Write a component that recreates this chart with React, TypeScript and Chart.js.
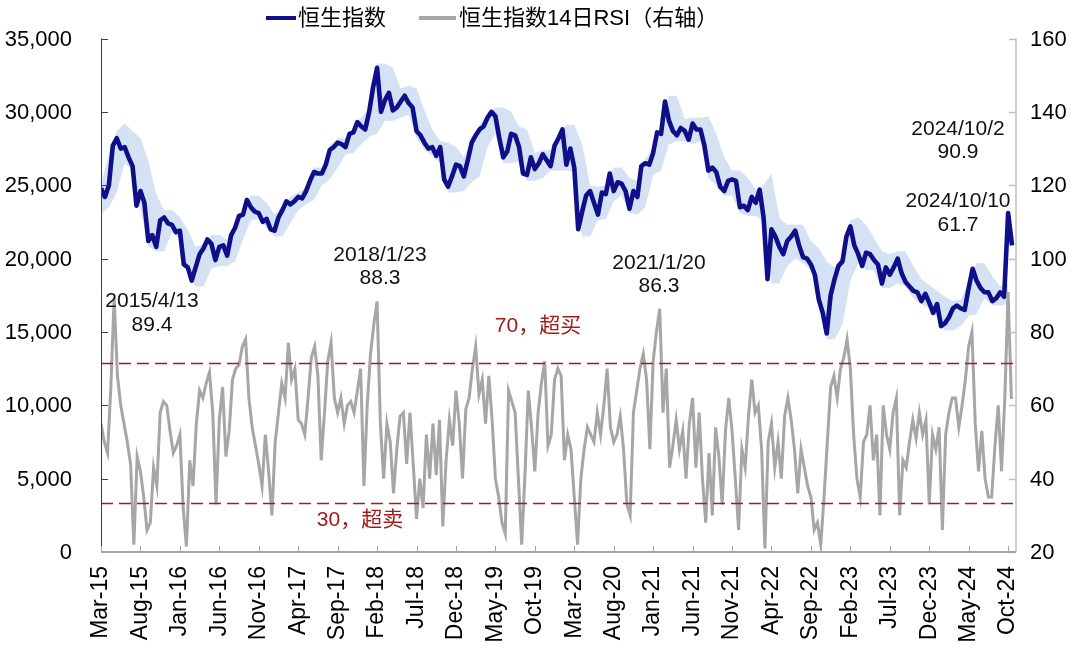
import React, { useEffect, useRef } from "react";
import { Chart, registerables } from "chart.js";

Chart.register(...registerables);

// ---- time grid: months since 1 Mar 2015 ----
const HSI_STEP_MONTHS = 0.5; // semi-monthly readings
const RSI_STEP_MONTHS = 1 / 2.4; // ~every 9 trading days
const BAND_STEP_MONTHS = 1; // monthly readings

const xTickMonths = [0, 5, 10, 15, 20, 25, 30, 35, 40, 45, 50, 55, 60, 65, 70, 75, 80, 85, 90, 95, 100, 105, 110, 115];
const xTickLabels = [
  "Mar-15", "Aug-15", "Jan-16", "Jun-16", "Nov-16", "Apr-17", "Sep-17", "Feb-18",
  "Jul-18", "Dec-18", "May-19", "Oct-19", "Mar-20", "Aug-20", "Jan-21", "Jun-21",
  "Nov-21", "Apr-22", "Sep-22", "Feb-23", "Jul-23", "Dec-23", "May-24", "Oct-24",
];

// Hang Seng Index (left axis)
const hsiValues = [
  24800, 24200, 25000, 27700, 28200, 27500, 27600, 26900, 26300, 23600,
  24600, 23800, 21200, 21600, 20800, 22600, 22800, 22400, 22300, 21800,
  21900, 19600, 19400, 18500, 19400, 20300, 20700, 21300, 21000, 19900,
  20800, 20900, 20200, 21600, 22100, 22900, 23000, 24000, 23500, 23200,
  23100, 22500, 22700, 22000, 21900, 22800, 23300, 23900, 23700, 23900,
  24200, 24100, 24600, 25300, 25900, 25800, 25800, 26400, 27400, 27600,
  27900, 27800, 27600, 28500, 28600, 29300, 29000, 28800, 30000, 31700,
  33000, 30000, 30800, 31300, 30100, 30300, 30700, 31100, 30600, 30300,
  28700, 28400, 27900, 27500, 27600, 27000, 27600, 25400, 24900, 25600,
  26400, 26300, 25600, 26700, 27900, 28400, 28800, 29000, 29600, 30000,
  29700, 28200, 26900, 27300, 28500, 28400, 27600, 25800, 25700, 26900,
  26100, 26500, 27100, 26700, 26300, 27700, 28200, 28800, 26400, 27500,
  26200, 22000, 23200, 24300, 24600, 23800, 23000, 24500, 24400, 25800,
  24600, 25200, 25100, 24600, 23400, 24600, 24200, 26300, 26500, 26400,
  27200, 28600, 28500, 30700, 29400, 28700, 28400, 28900, 28700, 28100,
  29200, 28800, 28800, 27700, 26000, 26200, 25900, 24900, 24600, 25300,
  25400, 25300, 23500, 23600, 23300, 24200, 23800, 24700, 22800, 18600,
  22000, 21500, 20800, 20300, 21200, 21500, 21900, 20900, 20100, 20000,
  19600, 18900, 17200, 16300, 14900, 17500, 18600, 19500, 19800, 21500,
  22200, 20900, 20300, 19500, 20400, 20300, 19900, 19600, 18300, 19400,
  18900, 19400, 20000, 19000, 18400, 18100, 17800, 17700, 17100, 17600,
  17000, 16300, 16900, 15400, 15600, 16000, 16600, 16800, 16600, 16500,
  18000, 19300, 18500, 18000, 17700, 17700, 17100, 17300, 17700, 17400,
  23100, 20900,
];

// shaded range around the index (left axis)
const bandHigh = [
  25100, 27100, 28700, 29200, 28700, 28200, 26700, 24400, 23300, 23300,
  22800, 22000, 20800, 21000, 21600, 21600, 21300, 22400, 23300, 24300,
  24300, 23800, 23000, 23600, 24200, 24500, 24900, 26200, 26200, 27700,
  28200, 28200, 28900, 29600, 30300, 33300, 33300, 33000, 31600, 31800,
  31600, 30100, 28800, 28000, 27900, 27600, 26900, 28200, 29100, 29900,
  30300, 30300, 30000, 29000, 28800, 27200, 27400, 27400, 28500, 29100,
  29100, 27800, 25000, 24900, 25000, 26200, 26200, 25500, 25300, 26800,
  27500, 28900, 31100, 31100, 29500, 29600, 29600, 29700, 28500, 26900,
  26000, 26000, 25500, 24700, 25000, 25800, 22800, 22300, 22300, 22300,
  21200, 20700, 19800, 19400, 20200, 22600, 22800, 22300, 21400, 20500,
  20300, 20500, 20500, 19500, 18600, 18200, 17800, 17400, 17100, 17200,
  18400, 19700, 19700, 18800, 18100, 18300,
];
const bandLow = [
  23000, 23500, 24500, 26500, 26000, 23300, 20800, 20500, 20500, 21800,
  21300, 19000, 18100, 18100, 19300, 19500, 19500, 19800, 21300, 22600,
  22700, 22100, 21500, 21500, 22400, 23300, 23700, 24000, 25000, 25400,
  26200, 27100, 27200, 27800, 28300, 28500, 29400, 29400, 29600, 29800,
  28200, 27400, 27000, 26500, 24500, 24500, 24600, 25200, 25600, 27600,
  28500, 26500, 26500, 26600, 25300, 25300, 25500, 26000, 26000, 26000,
  25900, 21500, 21500, 22600, 22700, 23900, 24300, 23100, 23000, 23500,
  25700, 26000, 27800, 28000, 28000, 27800, 28000, 25500, 25000, 24300,
  24300, 23100, 22900, 22900, 22500, 18300, 18300, 19500, 20000, 19700,
  19200, 16800, 14500, 14500, 15500, 18500, 19700, 19200, 19200, 18000,
  18000, 18300, 18100, 17300, 16900, 16600, 16000, 15100, 15100, 15400,
  16100, 16200, 17300, 16800, 16800, 16900,
];

// HSI 14-day RSI (right axis)
const rsiValues = [
  55, 50, 47, 65, 89.4, 68, 60, 55, 50, 44,
  22, 46, 42, 35, 26, 28, 43, 38, 58, 61,
  60, 53, 47, 49, 52, 32, 21.5, 45, 38, 55,
  64, 62, 66, 69, 58, 33, 56, 65, 46, 53,
  67, 70, 71, 76, 78, 62, 54, 49, 44, 38,
  52, 42, 30, 50, 58, 66, 62, 77, 67, 70,
  56, 55, 52, 62, 73, 76, 68, 45, 58, 72,
  77, 62, 58, 62, 55, 60, 61, 58, 64, 70,
  38, 60, 74, 82, 88.3, 55, 40, 55, 50, 36,
  48, 57, 58, 44, 58, 44, 29, 40, 32, 52,
  40, 55, 41, 56, 27, 45, 56, 49, 64, 55,
  40, 59, 62, 70, 76, 63, 67, 55, 68, 56,
  40, 35, 28, 25, 64, 61, 58, 40, 22, 41,
  64, 54, 42, 58, 66, 72, 49, 52, 67, 70,
  68, 45, 52, 48, 35, 22, 40, 48, 54, 52,
  50, 58, 52, 60, 70, 54, 50, 52, 57, 48,
  33, 30, 58, 64, 70, 74, 67, 48, 72, 80,
  86.3, 58, 70, 43, 49, 56, 48, 53, 40, 55,
  62, 43, 58, 40, 28, 47, 30, 54, 46, 33,
  53, 62, 53, 40, 26, 48, 43, 57, 67, 58,
  60, 48, 21, 50, 55, 43, 50, 40, 57, 62,
  56, 48, 36, 48, 43, 38, 35, 26, 28, 22,
  35, 50, 65, 68, 62, 70, 73, 78, 70, 52,
  40, 35, 50, 52, 60, 45, 52, 30, 60, 52,
  48, 58, 62, 30, 45, 43, 50, 56, 51, 58,
  52, 56, 33, 52, 48, 54, 26, 52, 58, 62,
  62, 54, 60, 67, 76, 80, 55, 42, 53, 40,
  35, 35, 49, 60, 42, 62, 90.9, 61.7,
];

// reference levels as drawn on the right axis
const overboughtLevel = 71.4;
const oversoldLevel = 33.3;

const legendLabels = ["恒生指数", "恒生指数14日RSI（右轴）"];
const annotationDates = ["2015/4/13", "2018/1/23", "2021/1/20", "2024/10/2", "2024/10/10"];
const annotationValues = ["89.4", "88.3", "86.3", "90.9", "61.7"];
const levelLabels = ["70，超买", "30，超卖"];

// ---- styles ----
const NAVY = "#0f0f8a";
const GRAY = "#a6a6a6";
const BAND = "rgba(206,221,241,0.85)";
const RED = "#a01d1d";
const FONT_FAMILY = '"Liberation Sans", Arial, "Noto Sans CJK SC", sans-serif';

const toPoints = (vals: number[], step: number) => vals.map((v, i) => ({ x: i * step, y: v }));

const decorPlugin = {
  id: "decor",
  afterDatasetsDraw(chart: any) {
    const { ctx, chartArea: a, scales } = chart;
    const y1 = scales.y1;
    ctx.save();
    ctx.strokeStyle = RED;
    ctx.lineWidth = 1.6;
    ctx.setLineDash([12, 6]);
    for (const lv of [overboughtLevel, oversoldLevel]) {
      const py = Math.round(y1.getPixelForValue(lv)) + 0.5;
      ctx.beginPath();
      ctx.moveTo(a.left, py);
      ctx.lineTo(a.right, py);
      ctx.stroke();
    }
    ctx.restore();
  },
  afterDraw(chart: any) {
    const { ctx, chartArea: a, scales } = chart;
    const { x, y, y1 } = scales;
    ctx.save();
    const seg = (x0: number, y0: number, x1: number, yy1: number) => {
      ctx.beginPath();
      ctx.moveTo(x0, y0);
      ctx.lineTo(x1, yy1);
      ctx.stroke();
    };
    // left axis
    ctx.strokeStyle = "#404040";
    ctx.lineWidth = 1;
    seg(a.left + 0.5, a.top, a.left + 0.5, a.bottom);
    ctx.font = `22px ${FONT_FAMILY}`;
    ctx.fillStyle = "#000";
    ctx.textBaseline = "middle";
    ctx.textAlign = "right";
    y.ticks.forEach((t: any) => {
      const py = Math.round(y.getPixelForValue(t.value)) + 0.5;
      seg(a.left, py, a.left + 7, py);
      ctx.fillText(Number(t.value).toLocaleString("en-US"), a.left - 29, py);
    });
    // right axis
    ctx.strokeStyle = "#bfbfbf";
    ctx.lineWidth = 1.5;
    seg(a.right, a.top, a.right, a.bottom);
    ctx.textAlign = "left";
    y1.ticks.forEach((t: any) => {
      const py = Math.round(y1.getPixelForValue(t.value)) + 0.5;
      seg(a.right - 7, py, a.right, py);
      ctx.fillText(String(t.value), a.right + 14, py);
    });
    // bottom axis
    ctx.strokeStyle = "#a6a6a6";
    ctx.lineWidth = 2;
    seg(a.left, a.bottom, a.right, a.bottom);
    ctx.lineWidth = 1;
    xTickMonths.forEach((m) => {
      const px = Math.round(x.getPixelForValue(m)) + 0.5;
      seg(px, a.bottom - 6, px, a.bottom);
    });

    // legend
    ctx.textBaseline = "middle";
    ctx.textAlign = "left";
    ctx.font = `22px ${FONT_FAMILY}`;
    ctx.fillStyle = "#000";
    ctx.lineWidth = 4;
    ctx.strokeStyle = NAVY;
    seg(266, 18, 296, 18);
    ctx.fillText(legendLabels[0], 298, 19);
    ctx.strokeStyle = GRAY;
    seg(419, 18, 456, 18);
    ctx.fillText(legendLabels[1], 459, 19);

    // annotations
    ctx.textAlign = "center";
    ctx.font = `21px ${FONT_FAMILY}`;
    ctx.fillStyle = "#111";
    const annPos = [
      [152, 301, 325],
      [380, 255, 278],
      [659, 263, 286],
      [958, 129, 152],
      [958, 201, 225],
    ];
    annPos.forEach((p, i) => {
      ctx.fillText(annotationDates[i], p[0], p[1]);
      ctx.fillText(annotationValues[i], p[0], p[2]);
    });
    ctx.fillStyle = RED;
    ctx.fillText(levelLabels[0], 538, 326);
    ctx.fillText(levelLabels[1], 360, 520);
    ctx.restore();
  },
};

export default function App() {
  const ref = useRef<HTMLCanvasElement | null>(null);
  useEffect(() => {
    document.body.style.margin = "0";
    const canvas = ref.current;
    if (!canvas) return;
    const chart = new Chart(canvas, {
      type: "line",
      data: {
        datasets: [
          {
            label: "rsi",
            data: toPoints(rsiValues, RSI_STEP_MONTHS),
            yAxisID: "y1",
            borderColor: GRAY,
            borderWidth: 3,
            pointRadius: 0,
            fill: false,
            order: 0,
          },
          {
            label: "hsi",
            data: toPoints(hsiValues, HSI_STEP_MONTHS),
            yAxisID: "y",
            borderColor: NAVY,
            borderWidth: 4.6,
            pointRadius: 0,
            fill: false,
            borderJoinStyle: "round",
            order: 1,
          },
          {
            label: "bandHigh",
            data: toPoints(bandHigh, BAND_STEP_MONTHS),
            yAxisID: "y",
            borderWidth: 0,
            borderColor: "rgba(0,0,0,0)",
            pointRadius: 0,
            fill: "+1",
            backgroundColor: BAND,
            order: 2,
          },
          {
            label: "bandLow",
            data: toPoints(bandLow, BAND_STEP_MONTHS),
            yAxisID: "y",
            borderWidth: 0,
            borderColor: "rgba(0,0,0,0)",
            pointRadius: 0,
            fill: false,
            order: 3,
          },
        ],
      },
      options: {
        responsive: false,
        animation: false,
        devicePixelRatio: 1,
        layout: { padding: { top: 38.5, left: 0, right: 0, bottom: 0 } },
        plugins: {
          legend: { display: false },
          tooltip: { enabled: false },
        },
        scales: {
          x: {
            type: "linear",
            min: 0,
            max: 116,
            afterBuildTicks: (s: any) => {
              s.ticks = xTickMonths.map((v) => ({ value: v }));
            },
            afterFit: (s: any) => {
              s.height = 110;
            },
            ticks: {
              autoSkip: false,
              maxRotation: 90,
              minRotation: 90,
              padding: 14,
              color: "#000",
              font: { family: FONT_FAMILY, size: 23 },
              callback: (_v: any, i: number) => xTickLabels[i],
            },
            grid: { display: false, drawTicks: false },
            border: { display: false },
          },
          y: {
            position: "left",
            min: 0,
            max: 35000,
            afterFit: (s: any) => {
              s.width = 101;
            },
            ticks: { stepSize: 5000, display: false },
            grid: { display: false, drawTicks: false },
            border: { display: false },
          },
          y1: {
            position: "right",
            min: 20,
            max: 160,
            afterFit: (s: any) => {
              s.width = 64;
            },
            ticks: { stepSize: 20, display: false },
            grid: { display: false, drawTicks: false },
            border: { display: false },
          },
        },
      },
      plugins: [decorPlugin],
    } as any);
    return () => chart.destroy();
  }, []);
  return (
    <div style={{ position: "fixed", left: 0, top: 0, width: 1080, height: 662, background: "#fff" }}>
      <canvas ref={ref} width={1080} height={662} style={{ display: "block" }} />
    </div>
  );
}
